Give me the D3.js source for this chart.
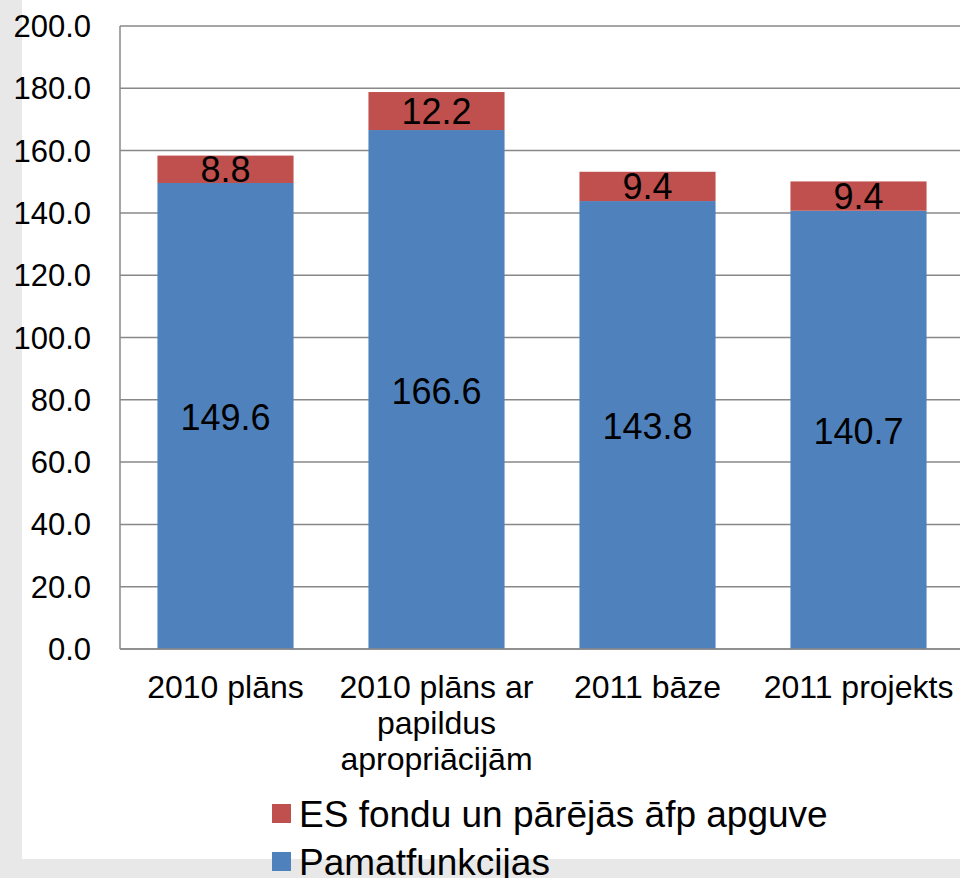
<!DOCTYPE html>
<html lang="lv">
  <head>
    <meta charset="utf-8">
    <title>Izdevumi</title>
    <script src="https://d3js.org/d3.v7.min.js"></script>
    <style>
      body { margin: 0; background: #e8e8e8; }
      svg { display: block; font-family: Arial, "Liberation Sans", sans-serif; }
    </style>
  </head>
  <body>
    <script>

      // data
      var categories = ["2010 plāns", "2010 plāns ar\npapildus\napropriācijām", "2011 bāze", "2011 projekts"];
      var pamatfunkcijas = [149.6, 166.6, 143.8, 140.7];
      var esFondi = [8.8, 12.2, 9.4, 9.4];
      var yTicks = [0, 20, 40, 60, 80, 100, 120, 140, 160, 180, 200];
      var seriesNames = ["ES fondu un pārējās āfp apguve", "Pamatfunkcijas"];

      var w = 960, h = 878;
      var blue = "#4f81bd", red = "#c0504d";

      var svg = d3.select("body").append("svg")
          .attr("width", w)
          .attr("height", h);

      // grey background + white panel
      svg.append("rect").attr("width", w).attr("height", h).attr("fill", "#e8e8e8");
      svg.append("rect").attr("x", 22).attr("y", 0).attr("width", w - 22).attr("height", 859).attr("fill", "#ffffff");

      var x = d3.scaleBand()
          .domain(categories)
          .range([120, 964])
          .paddingInner(0.355)
          .paddingOuter(0.1775);

      var y = d3.scaleLinear()
          .domain([0, 200])
          .range([649, 26]);

      // gridlines
      svg.append("g").selectAll("line")
          .data(yTicks)
          .enter().append("line")
          .attr("x1", 120)
          .attr("x2", w)
          .attr("y1", function(d) { return y(d); })
          .attr("y2", function(d) { return y(d); })
          .attr("stroke", "#888888")
          .attr("stroke-width", 1.5);

      // y axis line + labels
      svg.append("line")
          .attr("x1", 120).attr("x2", 120)
          .attr("y1", y(200)).attr("y2", y(0))
          .attr("stroke", "#888888")
          .attr("stroke-width", 1.5);

      svg.append("g").selectAll("text")
          .data(yTicks)
          .enter().append("text")
          .attr("x", 91)
          .attr("y", function(d) { return y(d) + 11; })
          .attr("text-anchor", "end")
          .attr("font-size", 31)
          .attr("fill", "#000")
          .text(function(d) { return d.toFixed(1); });

      // stacked bars
      var bars = svg.append("g");
      bars.selectAll("rect.base")
          .data(categories)
          .enter().append("rect")
          .attr("class", "base")
          .attr("x", function(d) { return x(d); })
          .attr("width", x.bandwidth())
          .attr("y", function(d, i) { return y(pamatfunkcijas[i]); })
          .attr("height", function(d, i) { return y(0) - y(pamatfunkcijas[i]); })
          .attr("fill", blue);

      bars.selectAll("rect.es")
          .data(categories)
          .enter().append("rect")
          .attr("class", "es")
          .attr("x", function(d) { return x(d); })
          .attr("width", x.bandwidth())
          .attr("y", function(d, i) { return y(pamatfunkcijas[i] + esFondi[i]); })
          .attr("height", function(d, i) { return y(pamatfunkcijas[i]) - y(pamatfunkcijas[i] + esFondi[i]); })
          .attr("fill", red);

      // data labels
      var labels = svg.append("g")
          .attr("text-anchor", "middle")
          .attr("font-size", 36)
          .attr("fill", "#000");

      labels.selectAll("text.base")
          .data(categories)
          .enter().append("text")
          .attr("x", function(d) { return x(d) + x.bandwidth() / 2; })
          .attr("y", function(d, i) { return y(pamatfunkcijas[i] / 2) + 14; })
          .text(function(d, i) { return pamatfunkcijas[i].toFixed(1); });

      labels.selectAll("text.es")
          .data(categories)
          .enter().append("text")
          .attr("x", function(d) { return x(d) + x.bandwidth() / 2; })
          .attr("y", function(d, i) { return y(pamatfunkcijas[i] + esFondi[i] / 2) + 13; })
          .text(function(d, i) { return esFondi[i].toFixed(1); });

      // bottom axis line
      svg.append("line")
          .attr("x1", 120).attr("x2", w)
          .attr("y1", y(0)).attr("y2", y(0))
          .attr("stroke", "#888888")
          .attr("stroke-width", 1.5);

      // category labels (multi-line)
      var cat = svg.append("g").selectAll("text")
          .data(categories)
          .enter().append("text")
          .attr("text-anchor", "middle")
          .attr("font-size", 32)
          .attr("fill", "#000")
          .attr("x", function(d) { return x(d) + x.bandwidth() / 2; })
          .attr("y", 698);

      cat.each(function(d) {
        var t = d3.select(this);
        var cx = t.attr("x");
        d.split("\n").forEach(function(line, k) {
          t.append("tspan")
            .attr("x", cx)
            .attr("dy", k === 0 ? 0 : 36)
            .text(line);
        });
      });

      // legend
      var legend = svg.append("g").selectAll("g")
          .data(seriesNames)
          .enter().append("g")
          .attr("transform", function(d, i) { return "translate(272," + (804 + i * 48) + ")"; });

      legend.append("rect")
          .attr("width", 19)
          .attr("height", 19)
          .attr("fill", function(d, i) { return i === 0 ? red : blue; });

      legend.append("text")
          .attr("x", 27)
          .attr("y", 23)
          .attr("font-size", 37)
          .attr("fill", "#000")
          .text(function(d) { return d; });

    </script>
  </body>
</html>
